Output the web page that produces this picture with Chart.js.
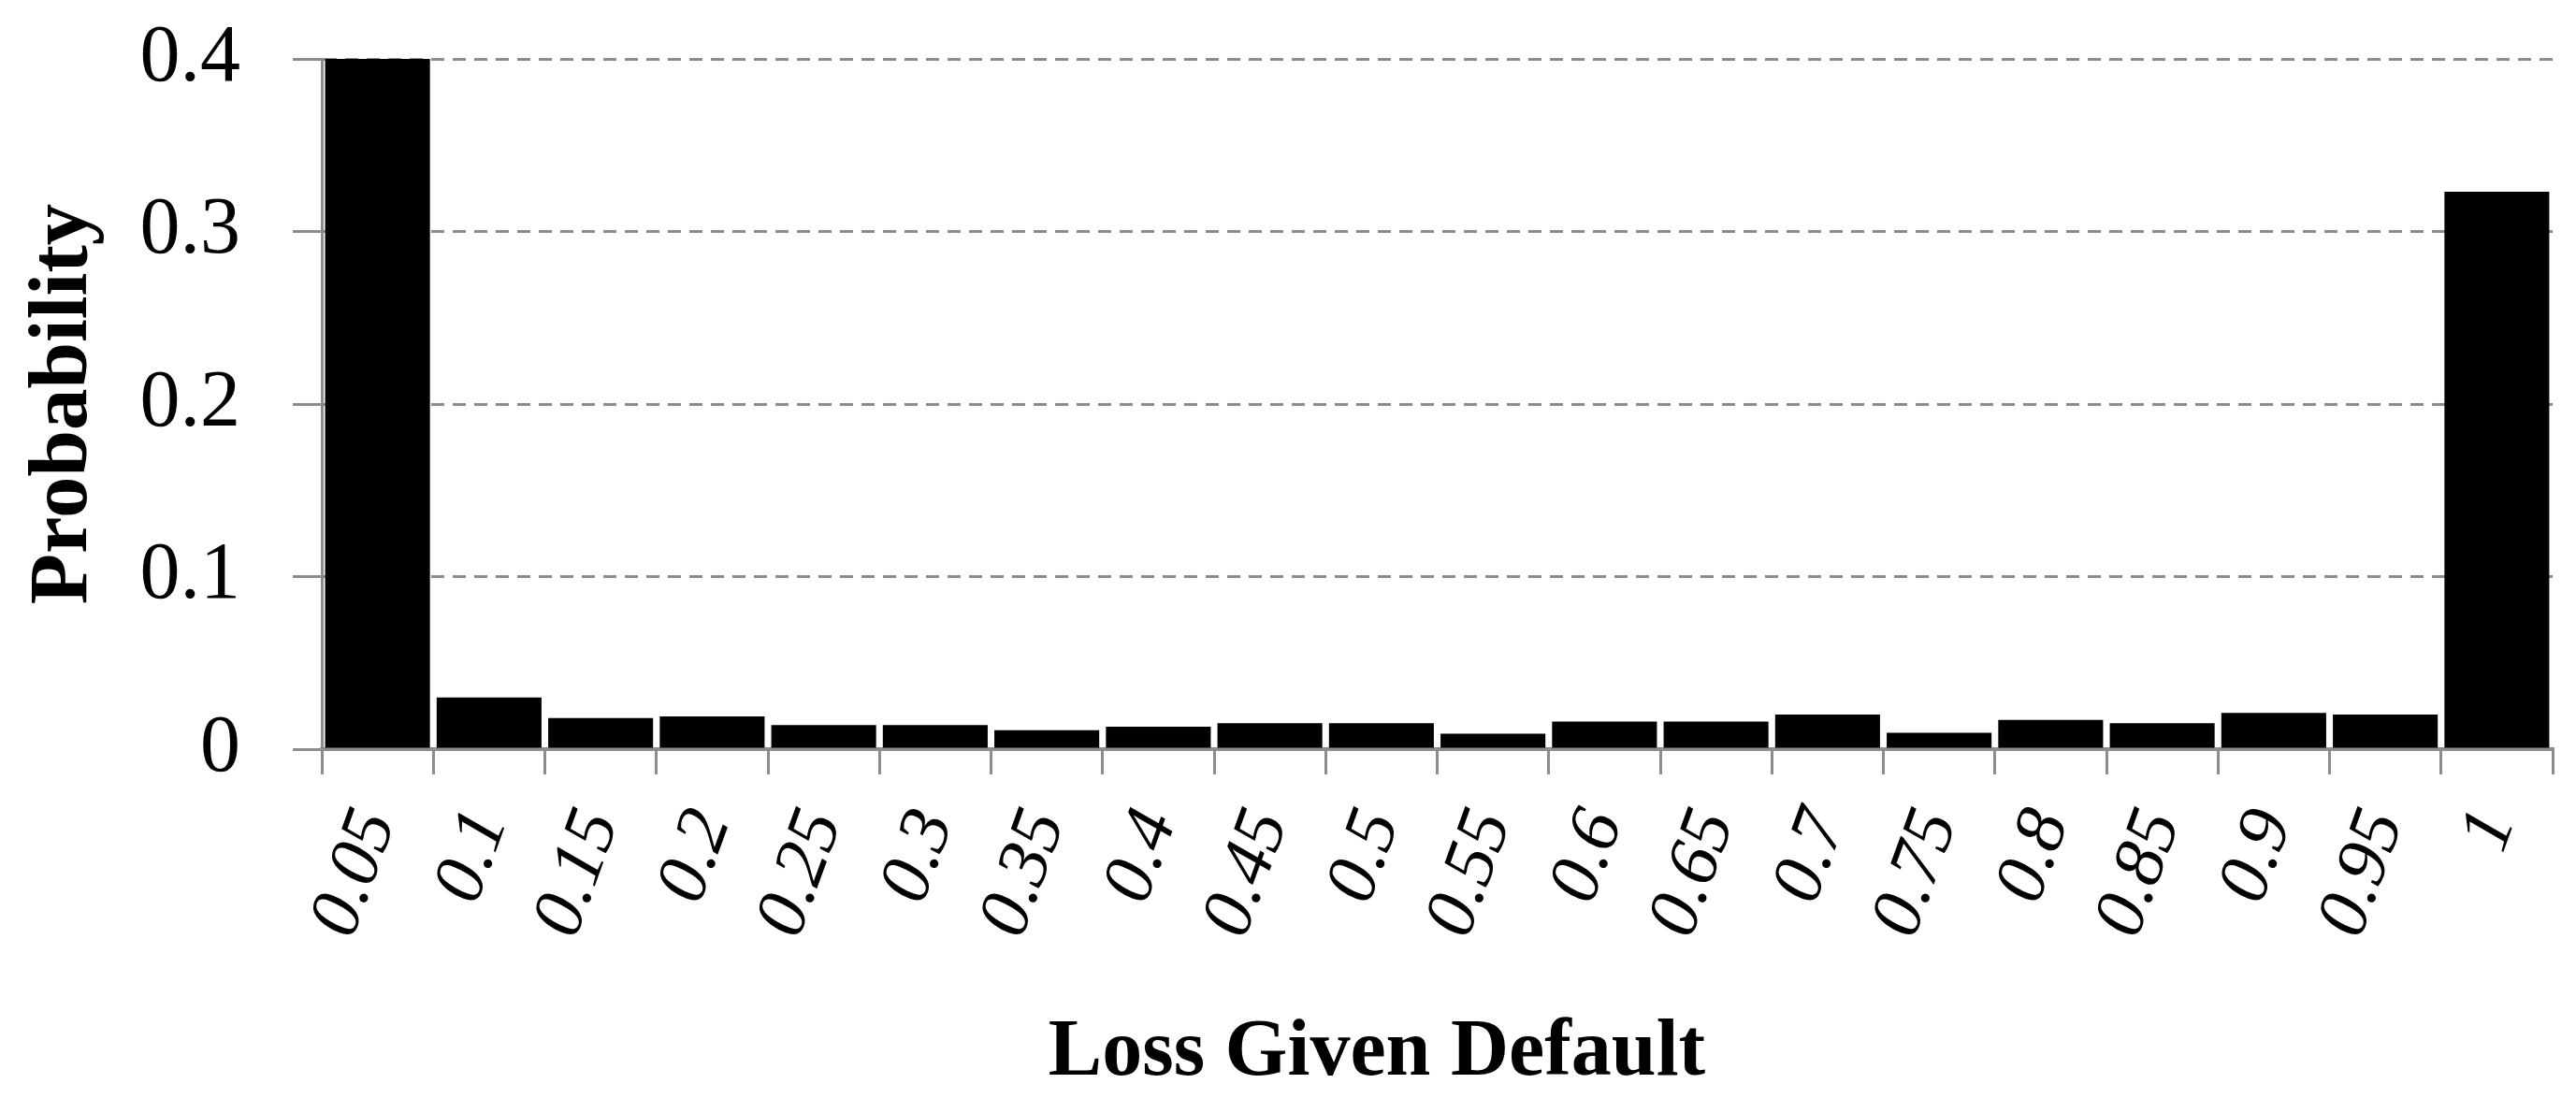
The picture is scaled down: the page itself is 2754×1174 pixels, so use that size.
<!DOCTYPE html>
<html>
<head>
<meta charset="utf-8">
<script src="https://cdn.jsdelivr.net/npm/chart.js@4.4.1/dist/chart.umd.min.js"></script>
<style>
  html, body { margin: 0; padding: 0; background: #ffffff; }
  #wrap { width: 2754px; height: 1174px; }
</style>
</head>
<body>
<div id="wrap"><canvas id="c" width="2754" height="1174"></canvas></div>
<script>
const categories = ["0.05","0.1","0.15","0.2","0.25","0.3","0.35","0.4","0.45","0.5",
                    "0.55","0.6","0.65","0.7","0.75","0.8","0.85","0.9","0.95","1"];
const probability = [0.400, 0.030, 0.018, 0.019, 0.014, 0.014, 0.011, 0.013, 0.015, 0.015,
                     0.009, 0.016, 0.016, 0.020, 0.0095, 0.017, 0.015, 0.021, 0.020, 0.323];
const yTicks = [0, 0.1, 0.2, 0.3, 0.4];
const xTitle = "Loss Given Default";
const yTitle = "Probability";

const GRAY = "#8c8c8c";
const SERIF = "'Liberation Serif', 'DejaVu Serif', serif";
const PAD_L = 16, PAD_R = 25, PAD_T = 63;
const PLOT_LEFT = 344, PLOT_BOTTOM = 801;

new Chart(document.getElementById("c"), {
  type: "bar",
  data: {
    labels: categories,
    datasets: [{
      data: probability,
      backgroundColor: "#000000",
      borderWidth: 0,
      barPercentage: 0.94,
      categoryPercentage: 1.0
    }]
  },
  options: {
    responsive: false,
    animation: false,
    layout: { padding: { left: PAD_L, right: PAD_R, top: PAD_T, bottom: 0 } },
    plugins: { legend: { display: false }, tooltip: { enabled: false } },
    scales: {
      x: {
        offset: true,
        grid: { offset: true, drawOnChartArea: false, color: GRAY, lineWidth: 3, tickLength: 27 },
        border: { display: true, color: GRAY, width: 4 },
        ticks: {
          font: { family: SERIF, size: 78, style: "italic" },
          color: "#000",
          minRotation: 70, maxRotation: 70,
          padding: 26,
          autoSkip: false
        },
        title: {
          display: true,
          text: xTitle + "      ",
          font: { family: SERIF, size: 86, weight: "bold", lineHeight: 1.1 },
          color: "#000",
          padding: { top: 0, bottom: 0 }
        },
        afterFit: s => { s.height = 1174 - PLOT_BOTTOM; s.paddingLeft = 0; s.paddingRight = 0; }
      },
      y: {
        min: 0, max: 0.4,
        afterBuildTicks: s => { s.ticks = yTicks.map(v => ({ value: v })); },
        grid: { color: GRAY, lineWidth: 3, tickLength: 31, tickBorderDash: [] },
        border: { display: true, color: GRAY, width: 3, dash: [14, 9] },
        ticks: {
          font: { family: SERIF, size: 86 },
          color: "#000",
          padding: 56
        },
        title: {
          display: true,
          text: yTitle,
          font: { family: SERIF, size: 89, weight: "bold" },
          color: "#000",
          padding: { top: 0, bottom: 0 }
        },
        afterFit: s => { s.width = PLOT_LEFT - PAD_L; s.paddingTop = 0; s.paddingBottom = 0; }
      }
    }
  }
});
</script>
</body>
</html>
